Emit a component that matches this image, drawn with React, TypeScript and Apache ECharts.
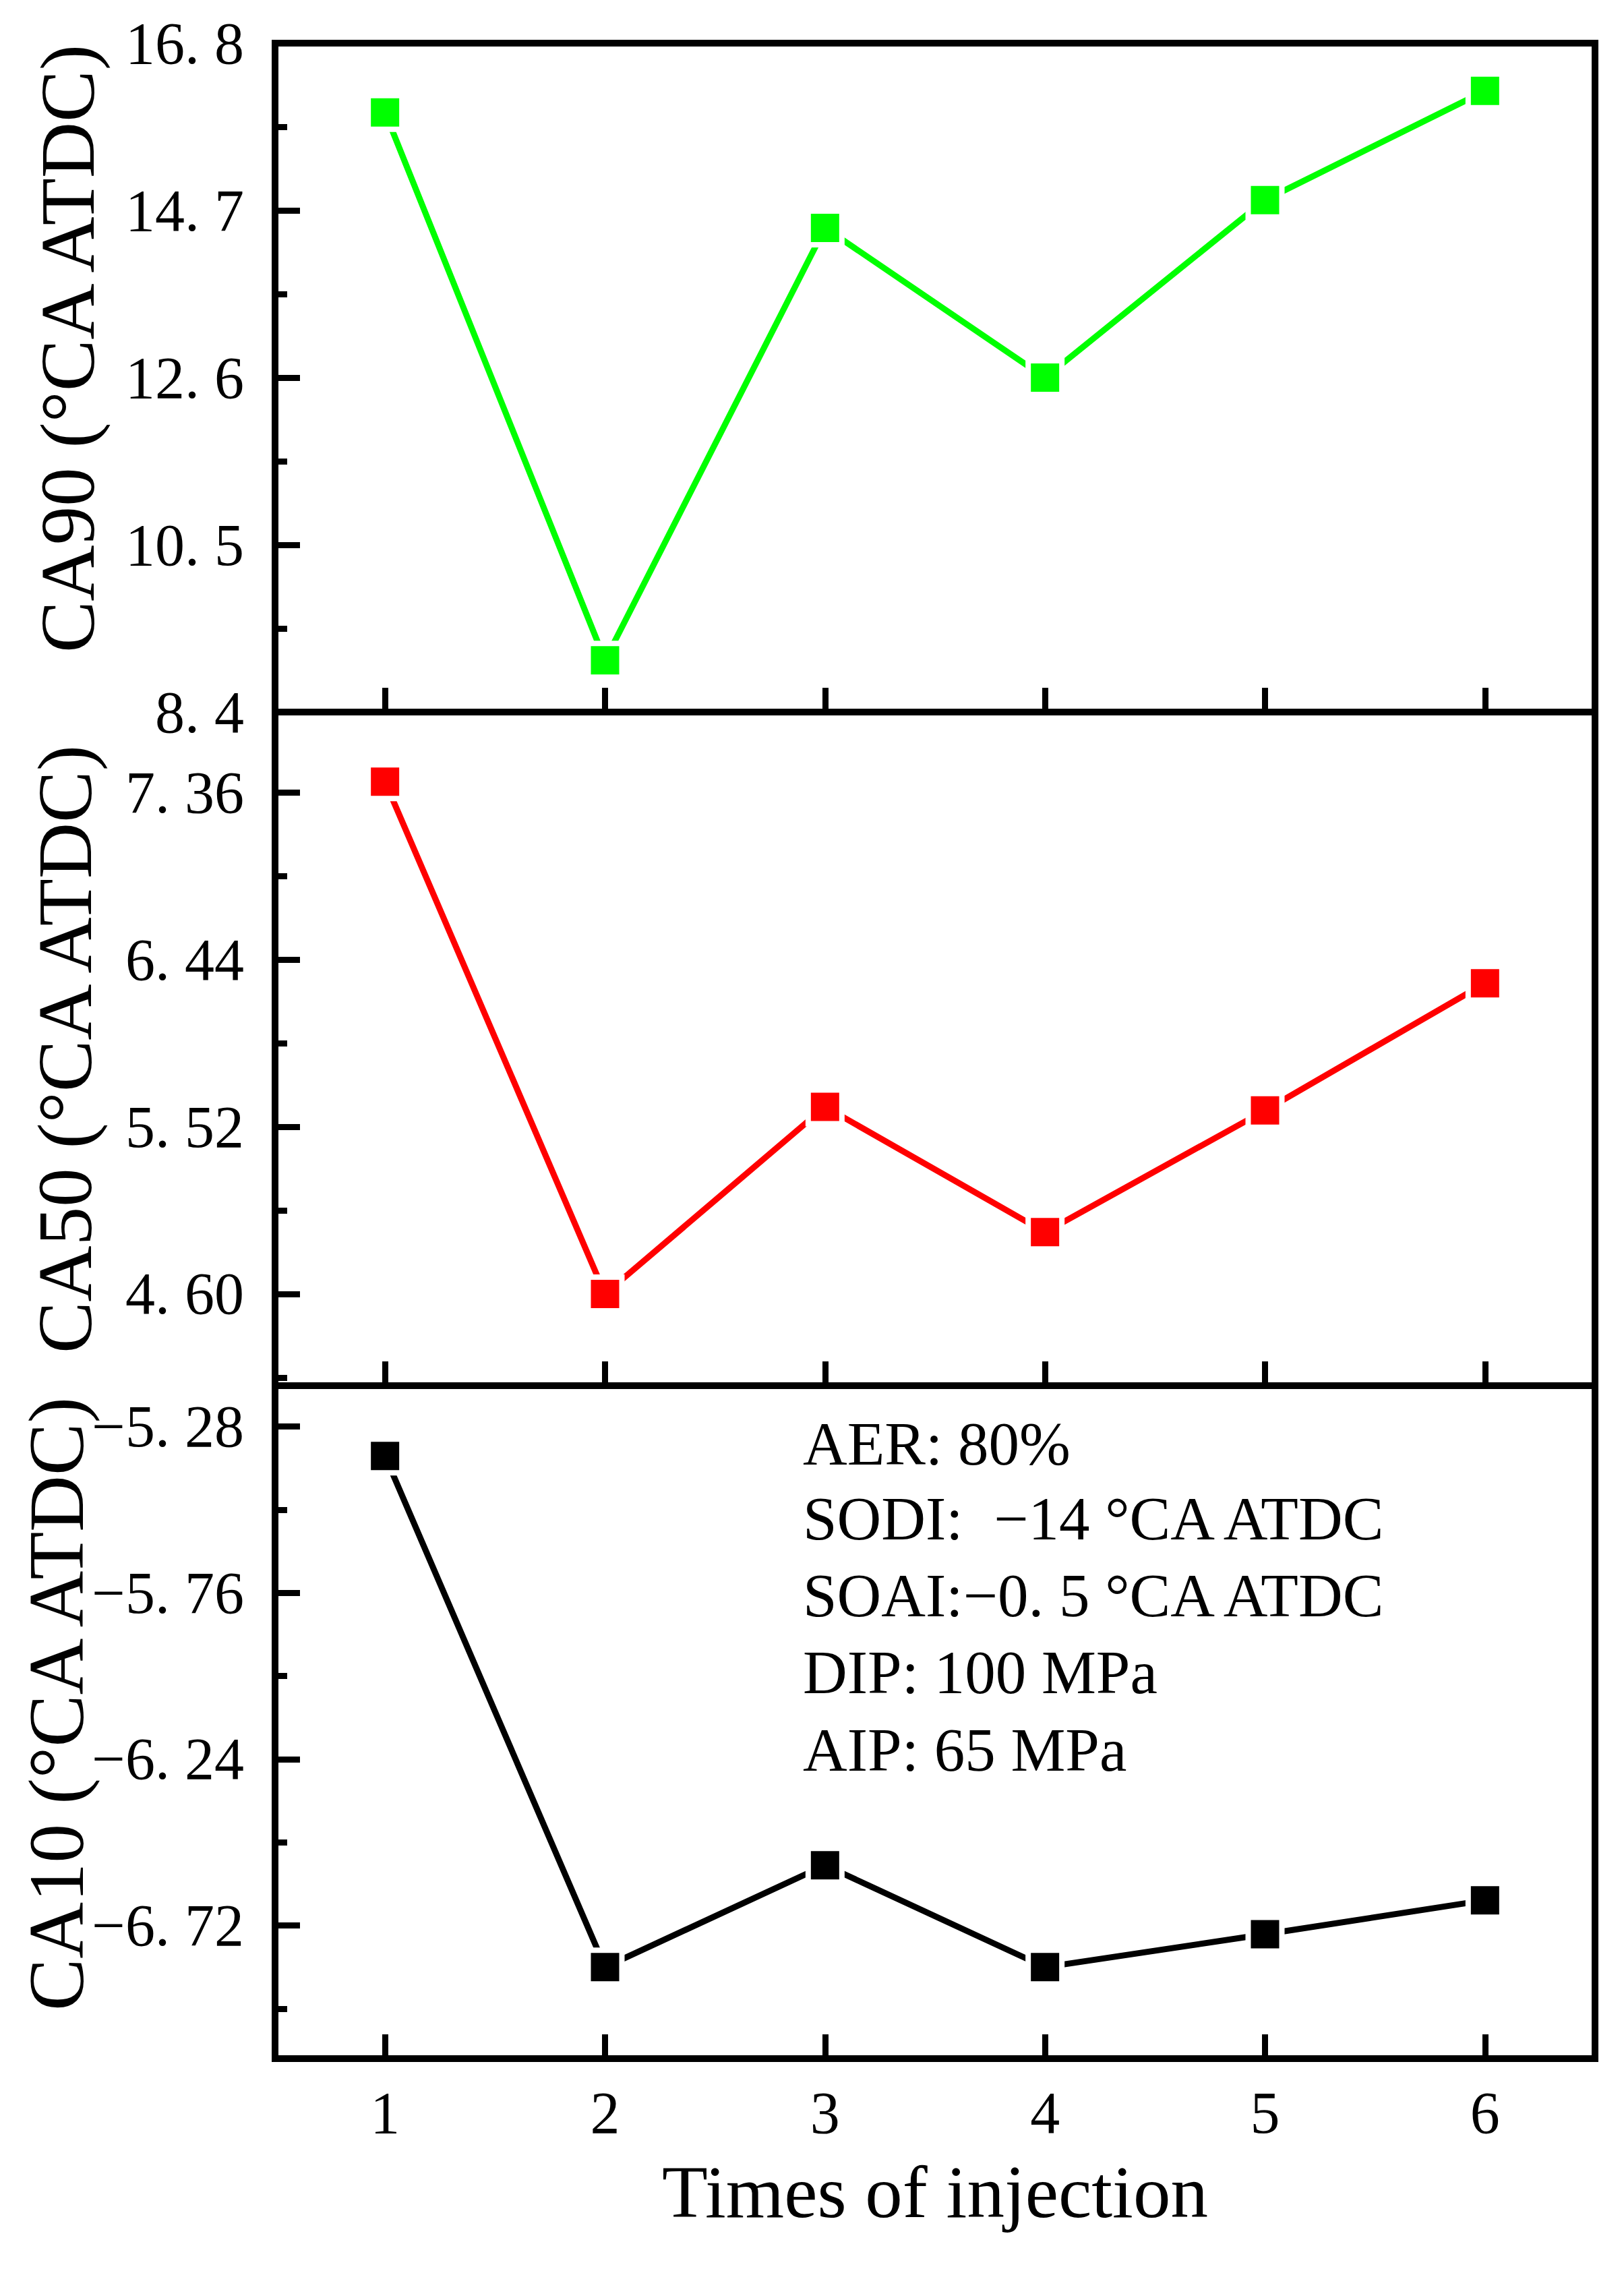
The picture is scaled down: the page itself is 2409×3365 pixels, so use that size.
import React, { useEffect, useRef } from "react";
import * as echarts from "echarts";

const injections = [1, 2, 3, 4, 5, 6];
const ca90 = [15.93, 9.05, 14.48, 12.6, 14.83, 16.2];
const ca50 = [7.42, 4.6, 5.63, 4.94, 5.61, 6.31];
const ca10 = [-5.365, -6.84, -6.546, -6.84, -6.745, -6.647];

const ca90Ticks = [8.4, 10.5, 12.6, 14.7, 16.8];
const ca90Minor = [9.45, 11.55, 13.65, 15.75];
const ca50Ticks = [4.6, 5.52, 6.44, 7.36];
const ca50Minor = [4.14, 5.06, 5.98, 6.9];
const ca10Ticks = [-6.72, -6.24, -5.76, -5.28];
const ca10Minor = [-6.96, -6.48, -6.0, -5.52];

const ranges = [
  [8.4, 16.8],
  [4.095, 7.803],
  [-7.104, -5.162],
];

const titles = ["CA90 (°CA ATDC)", "CA50 (°CA ATDC)", "CA10 (°CA ATDC)"];
const notes = [
  "AER: 80%",
  "SODI:  −14 °CA ATDC",
  "SOAI:−0. 5 °CA ATDC",
  "DIP: 100 MPa",
  "AIP: 65 MPa",
];
const xTitle = "Times of injection";

const FONT = "'Liberation Serif', 'Times New Roman', serif";

function fmt(v: number, d: number) {
  return v.toFixed(d).replace(".", ". ").replace("-", "−");
}

export default function App() {
  const ref = useRef<HTMLDivElement>(null);
  useEffect(() => {
    if (!ref.current) return;
    const chart = echarts.init(ref.current, undefined, { renderer: "svg" });
    const grids = [
      { top: 64, height: 992 },
      { top: 1056, height: 999 },
      { top: 2055, height: 998 },
    ].map((g) => ({
      left: 408,
      right: 43,
      top: g.top,
      height: g.height,
      show: true,
      borderColor: "#000",
      borderWidth: 10,
      backgroundColor: "transparent",
    }));
    const majors = [ca90Ticks, ca50Ticks, ca10Ticks];
    const minors = [ca90Minor, ca50Minor, ca10Minor];
    const decimals = [1, 2, 2];
    const xAxis = [0, 1, 2].map((i) => ({
      type: "value",
      gridIndex: i,
      min: 0.5,
      max: 6.5,
      axisLine: { show: true, lineStyle: { color: "#000", width: 10 } },
      axisTick: {
        show: true,
        inside: true,
        length: 36,
        lineStyle: { color: "#000", width: 9 },
        customValues: injections,
      },
      axisLabel: {
        show: i === 2,
        customValues: injections,
        margin: 36,
        fontFamily: FONT,
        fontSize: 88,
        color: "#000",
      },
      splitLine: { show: false },
      name: i === 2 ? xTitle : "",
      nameLocation: "middle",
      nameGap: 142,
      nameTextStyle: { fontFamily: FONT, fontSize: 111, color: "#000" },
    }));
    const yAxis: any[] = [];
    [0, 1, 2].forEach((i) => {
      yAxis.push({
        type: "value",
        gridIndex: i,
        position: "left",
        min: ranges[i][0],
        max: ranges[i][1],
        axisLine: { show: true, lineStyle: { color: "#000", width: 10 } },
        axisTick: {
          show: true,
          inside: true,
          length: 37,
          lineStyle: { color: "#000", width: 9 },
          customValues: majors[i],
        },
        axisLabel: {
          show: true,
          customValues: majors[i],
          margin: 46,
          fontFamily: FONT,
          fontSize: 88,
          color: "#000",
          formatter: (v: number) => fmt(v, decimals[i]),
        },
        splitLine: { show: false },
      });
    });
    [0, 1, 2].forEach((i) => {
      yAxis.push({
        type: "value",
        gridIndex: i,
        position: "left",
        min: ranges[i][0],
        max: ranges[i][1],
        axisLine: { show: false },
        axisTick: {
          show: true,
          inside: true,
          length: 18,
          lineStyle: { color: "#000", width: 9 },
          customValues: minors[i],
        },
        axisLabel: { show: false },
        splitLine: { show: false },
      });
    });
    const colors = ["#00ff00", "#ff0000", "#000000"];
    const datas = [ca90, ca50, ca10];
    const series = [0, 1, 2].map((i) => ({
      type: "line",
      xAxisIndex: i,
      yAxisIndex: i,
      data: injections.map((x, k) => [x, datas[i][k]]),
      symbol: "rect",
      symbolSize: 50,
      lineStyle: { color: colors[i], width: 9 },
      itemStyle: { color: colors[i], borderColor: "#fff", borderWidth: 8 },
      z: 3,
    }));
    const titleX = [100, 96, 84];
    const titleY = [517, 1556, 2527];
    const titleSize = [115, 115, 116];
    const graphic: any[] = titles.map((t, i) => ({
      type: "text",
      x: titleX[i],
      y: titleY[i],
      rotation: Math.PI / 2,
      style: {
        text: t,
        fontFamily: FONT,
        fontSize: titleSize[i],
        fill: "#000",
        align: "center",
        verticalAlign: "middle",
      },
    }));
    const noteY = [2141, 2252, 2366, 2480, 2595];
    notes.forEach((n, i) => {
      graphic.push({
        type: "text",
        x: 1191,
        y: noteY[i],
        style: {
          text: n,
          fontFamily: FONT,
          fontSize: 91,
          fill: "#000",
          align: "left",
          verticalAlign: "middle",
        },
      });
    });
    chart.setOption({
      animation: false,
      backgroundColor: "#fff",
      grid: grids,
      xAxis,
      yAxis,
      series,
      graphic,
    } as any);
    return () => chart.dispose();
  }, []);
  return (
    <div
      ref={ref}
      style={{ position: "absolute", left: 0, top: 0, width: 2409, height: 3365 }}
    />
  );
}
